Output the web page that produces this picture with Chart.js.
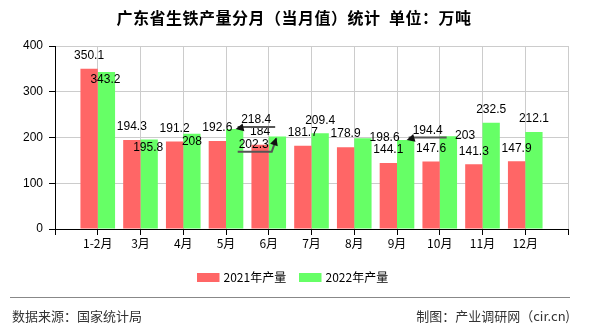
<!DOCTYPE html>
<html>
<head>
<meta charset="utf-8">
<script src="https://cdn.jsdelivr.net/npm/chart.js@4.4.1/dist/chart.umd.min.js"></script>
<style>
  html, body { margin: 0; padding: 0; background: #fff; }
  #wrap { width: 590px; height: 330px; position: relative; }
</style>
</head>
<body>
<div id="wrap"><canvas id="chart" width="590" height="330"></canvas></div>
<script>
const titleText = "广东省生铁产量分月（当月值）统计  单位：万吨";
const months = ["1-2月", "3月", "4月", "5月", "6月", "7月", "8月", "9月", "10月", "11月", "12月"];
const output2021 = [350.1, 194.3, 191.2, 192.6, 184, 181.7, 178.9, 144.1, 147.6, 141.3, 147.9];
const output2022 = [343.2, 195.8, 208, 218.4, 202.3, 209.4, 198.6, 194.4, 203, 232.5, 212.1];
const seriesNames = ["2021年产量", "2022年产量"];
const yTicks = [0, 100, 200, 300, 400];
const sourceText = "数据来源：国家统计局";
const creditText = "制图：产业调研网（cir.cn)";

// label nudges (px, relative to bar top centre); null = default above bar
const shift2022 = [[-1, 8], [-1, 8.4], [0, 7.7], [21.5, -9], [-23.7, 8.4], null, [21.7, 0], [22, -9.6], [16.7, 0], null, null];
const leader2022 = [null, null, null, "right", "hook", null, null, "right", null, null, null];

const RED = "#ff6666";
const GREEN = "#66ff66";
const CJK = "'Noto Sans CJK SC', 'Liberation Sans', sans-serif";
const NUM = "'Liberation Sans', 'Noto Sans CJK SC', sans-serif";

// pad with empty slots so the categories sit on ticks 1..11 of 0..12
const labels = [""].concat(months, [""]);
const pad = (arr) => [null].concat(arr, [null]);

function drawArrow(ctx, fromX, fromY, tipX, tipY) {
  const ang = Math.atan2(tipY - fromY, tipX - fromX);
  const len = 8, wid = 4;
  ctx.beginPath();
  ctx.moveTo(tipX, tipY);
  ctx.lineTo(tipX - len * Math.cos(ang) + wid * Math.sin(ang), tipY - len * Math.sin(ang) - wid * Math.cos(ang));
  ctx.lineTo(tipX - len * Math.cos(ang) - wid * Math.sin(ang), tipY - len * Math.sin(ang) + wid * Math.cos(ang));
  ctx.closePath();
  ctx.fill();
}

const valueLabels = {
  id: "valueLabels",
  afterDatasetsDraw(chart) {
    const ctx = chart.ctx;
    ctx.save();
    ctx.font = "12px " + NUM;
    ctx.textAlign = "center";
    ctx.textBaseline = "middle";
    chart.data.datasets.forEach((ds, di) => {
      const meta = chart.getDatasetMeta(di);
      meta.data.forEach((bar, i) => {
        const v = ds.data[i];
        if (v == null) return;
        const k = i - 1;
        const text = String(v);
        let x = bar.x, y = bar.y - 13;
        const shift = di === 1 ? shift2022[k] : null;
        if (shift) { x = bar.x + shift[0]; y = bar.y + shift[1]; }
        const lead = di === 1 ? leader2022[k] : null;
        if (lead) {
          const w = ctx.measureText(text).width;
          ctx.strokeStyle = "#555";
          ctx.fillStyle = "#111";
          ctx.lineWidth = 2;
          const ly = y + 7;
          ctx.beginPath();
          if (lead === "right") {
            ctx.moveTo(bar.x + 3, ly);
            ctx.lineTo(x + w / 2 + 4, ly);
            ctx.stroke();
            drawArrow(ctx, bar.x + 10, ly, bar.x + 1, bar.y);
          } else {
            ctx.moveTo(x - w / 2 - 1, ly);
            ctx.lineTo(x + w / 2 + 3, ly);
            ctx.lineTo(bar.x - 1, bar.y + 2);
            ctx.stroke();
            drawArrow(ctx, x + w / 2 + 3, ly, bar.x - 1, bar.y + 1);
          }
        }
        ctx.fillStyle = "#000";
        ctx.fillText(text, x, y);
      });
    });
    ctx.restore();
  }
};

const frame = {
  id: "frame",
  afterDraw(chart) {
    const ctx = chart.ctx;
    ctx.save();
    // title
    ctx.fillStyle = "#000";
    ctx.font = "bold 16px " + CJK;
    ctx.letterSpacing = "0.5px";
    ctx.textAlign = "center";
    ctx.textBaseline = "middle";
    ctx.fillText(titleText, 294, 18);
    ctx.letterSpacing = "0px";
    // legend
    ctx.font = "12px " + CJK;
    ctx.textAlign = "left";
    const legendX = [197, 299];
    chart.data.datasets.forEach((ds, i) => {
      ctx.fillStyle = ds.backgroundColor;
      ctx.fillRect(legendX[i], 273, 22.5, 9);
      ctx.fillStyle = "#000";
      ctx.fillText(ds.label, legendX[i] + 26.5, 277.5);
    });
    // footer
    ctx.strokeStyle = "#888";
    ctx.lineWidth = 1;
    ctx.beginPath();
    ctx.moveTo(10, 297.5);
    ctx.lineTo(570, 297.5);
    ctx.stroke();
    ctx.fillStyle = "#333";
    ctx.font = "13px " + CJK;
    ctx.textAlign = "left";
    ctx.fillText(sourceText, 12, 316);
    ctx.textAlign = "right";
    ctx.fillText(creditText, 570, 316);
    ctx.restore();
  }
};

new Chart(document.getElementById("chart"), {
  type: "bar",
  data: {
    labels: labels,
    datasets: [
      { label: seriesNames[0], data: pad(output2021), backgroundColor: RED, categoryPercentage: 0.81, barPercentage: 1 },
      { label: seriesNames[1], data: pad(output2022), backgroundColor: GREEN, categoryPercentage: 0.81, barPercentage: 1 },
    ],
  },
  options: {
    responsive: false,
    animation: false,
    layout: { padding: { top: 46, right: 22, left: 0, bottom: 0 } },
    plugins: {
      legend: { display: false },
      title: { display: false },
      tooltip: { enabled: false },
    },
    scales: {
      x: {
        offset: false,
        grid: { color: "#cccccc", tickColor: "#000", tickLength: 6, offset: false },
        border: { color: "#000", width: 1 },
        ticks: { color: "#000", font: { family: CJK, size: 12 }, padding: 1, autoSkip: false, maxRotation: 0 },
        afterFit(scale) { scale.height = 101; },
      },
      y: {
        min: 0,
        max: 400,
        afterBuildTicks(scale) { scale.ticks = yTicks.map((v) => ({ value: v })); },
        grid: { color: "#cccccc", tickColor: "#000", tickLength: 6 },
        border: { color: "#000", width: 1 },
        ticks: { color: "#000", font: { family: NUM, size: 12 }, padding: 6 },
        afterFit(scale) { scale.width = 55; },
      },
    },
  },
  plugins: [valueLabels, frame],
});
</script>
</body>
</html>
